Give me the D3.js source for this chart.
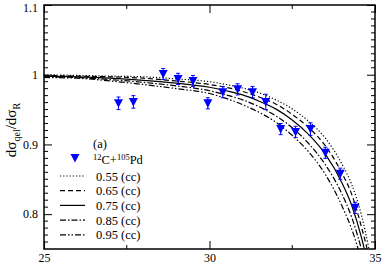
<!DOCTYPE html>
<html>
<head>
<meta charset="utf-8">
<style>
  body { margin: 0; background: #fff; }
  svg { display: block; }
  text { font-family: "Liberation Serif", "DejaVu Serif", serif; fill: #000; }
</style>
</head>
<body>
<svg></svg>
<script src="https://cdn.jsdelivr.net/npm/d3@7/dist/d3.min.js"></script>
<script>

  const width = 382,
        height = 264
  const margin = {left: 44, top: 5, right: 7, bottom: 15}
  const w = width - margin.left - margin.right,
        h = height - margin.top - margin.bottom

  // measured 12C+105Pd points
  const expAngle = [27.25, 27.7, 28.6, 29.05, 29.5, 29.95, 30.4, 30.85, 31.3, 31.7, 32.15, 32.6, 33.05, 33.5, 33.95, 34.4]
  const expRatio = [0.959, 0.961, 1.001, 0.994, 0.991, 0.959, 0.975, 0.979, 0.975, 0.961, 0.922, 0.918, 0.922, 0.888, 0.858, 0.809]
  const expErr   = [0.009, 0.009, 0.008, 0.008, 0.008, 0.008, 0.008, 0.008, 0.008, 0.011, 0.008, 0.008, 0.009, 0.008, 0.008, 0.008]

  // calculated curves, one per diffuseness
  const calcAngle = [25, 26, 27, 28, 29, 30, 30.5, 31, 31.5, 32, 32.5, 33, 33.5, 34, 34.3, 34.6, 34.8, 35]
  const curve055 = [1.000, 0.999, 0.998, 0.997, 0.994, 0.990, 0.986, 0.981, 0.974, 0.964, 0.951, 0.933, 0.909, 0.872, 0.842, 0.797, 0.754, 0.700]
  const curve065 = [0.999, 0.998, 0.997, 0.995, 0.991, 0.986, 0.982, 0.976, 0.968, 0.958, 0.943, 0.924, 0.898, 0.859, 0.828, 0.780, 0.742, 0.690]
  const curve075 = [0.998, 0.997, 0.995, 0.992, 0.988, 0.982, 0.977, 0.971, 0.962, 0.951, 0.935, 0.914, 0.886, 0.845, 0.812, 0.765, 0.725, 0.680]
  const curve085 = [0.997, 0.996, 0.993, 0.989, 0.984, 0.977, 0.971, 0.964, 0.954, 0.941, 0.924, 0.901, 0.871, 0.829, 0.795, 0.748, 0.710, 0.670]
  const curve095 = [0.996, 0.995, 0.991, 0.986, 0.980, 0.973, 0.966, 0.957, 0.946, 0.932, 0.913, 0.889, 0.857, 0.812, 0.778, 0.733, 0.700, 0.660]

  const curveLabels = ["0.55 (cc)", "0.65 (cc)", "0.75 (cc)", "0.85 (cc)", "0.95 (cc)"]
  const curveDash = ["1.2,2", "5,3", null, "6,2,1.5,2", "6,2,1.5,2,1.5,2"]
  const curves = [curve055, curve065, curve075, curve085, curve095]

  const xTicks = [25, 30, 35]
  const xMinor = [27.5, 32.5]
  const yTicks = [0.8, 0.9, 1, 1.1]
  const yMinor = d3.range(76, 110).map(d => d / 100).filter(d => Math.round(d * 100) % 10 != 0)

  const blue = "#0000ff"

  const x = d3.scaleLinear().domain([25, 35]).range([0, w])
  const y = d3.scaleLinear().domain([0.75, 1.1]).range([h, 0])

  const svg = d3.select("svg")
      .attr("width", width)
      .attr("height", height)

  svg.append("defs").append("clipPath").attr("id", "clip")
    .append("rect").attr("width", w).attr("height", h)

  const g = svg.append("g")
      .attr("transform", `translate(${margin.left}, ${margin.top})`)

  // curves
  const line = d3.line()
    .x((d, i) => x(calcAngle[i]))
    .y(d => y(d))
    .curve(d3.curveMonotoneX)

  const gCurves = g.append("g").attr("clip-path", "url(#clip)")
  curves.forEach((c, k) => {
    gCurves.append("path")
      .attr("d", line(c))
      .attr("fill", "none")
      .attr("stroke", "#000")
      .attr("stroke-width", 1.2)
      .attr("stroke-dasharray", curveDash[k])
  })

  // data points
  const tri = "M-4.5,-4L4.5,-4L0,4.5Z"
  const pts = g.selectAll(".pt")
    .data(expAngle)
    .enter()
    .append("g")
    .attr("class", "pt")
    .attr("transform", (d, i) => `translate(${x(d)}, ${y(expRatio[i])})`)
  pts.append("line")
    .attr("y1", (d, i) => y(expRatio[i] + expErr[i]) - y(expRatio[i]))
    .attr("y2", (d, i) => y(expRatio[i] - expErr[i]) - y(expRatio[i]))
    .attr("stroke", blue)
    .attr("stroke-width", 1)
  pts.append("line").attr("class", "cap")
    .attr("x1", -2).attr("x2", 2)
    .attr("y1", (d, i) => y(expRatio[i] + expErr[i]) - y(expRatio[i]))
    .attr("y2", (d, i) => y(expRatio[i] + expErr[i]) - y(expRatio[i]))
    .attr("stroke", blue)
  pts.append("line").attr("class", "cap")
    .attr("x1", -2).attr("x2", 2)
    .attr("y1", (d, i) => y(expRatio[i] - expErr[i]) - y(expRatio[i]))
    .attr("y2", (d, i) => y(expRatio[i] - expErr[i]) - y(expRatio[i]))
    .attr("stroke", blue)
  pts.append("path")
    .attr("d", tri)
    .attr("fill", blue)

  // axes, ticks inward on all four sides
  const axB = d3.axisBottom(x).tickValues(xTicks).tickSize(-8).tickPadding(4).tickFormat(d3.format("d"))
  const axT = d3.axisTop(x).tickValues(xTicks).tickSize(-8).tickFormat("")
  const axL = d3.axisLeft(y).tickValues(yTicks).tickSize(-8).tickPadding(6).tickFormat(d => d == 1 ? "1" : d3.format(".1f")(d))
  const axR = d3.axisRight(y).tickValues(yTicks).tickSize(-8).tickFormat("")

  g.append("g").attr("transform", `translate(0, ${h})`).call(axB)
  g.append("g").call(axT)
  const gyL = g.append("g").call(axL)
  g.append("g").attr("transform", `translate(${w}, 0)`).call(axR)

  // top label sits a touch lower so it stays inside the page
  gyL.selectAll(".tick text").filter(d => d == 1.1).attr("dy", "0.5em")

  // minor ticks
  xMinor.forEach(v => {
    g.append("line").attr("x1", x(v)).attr("x2", x(v)).attr("y1", h).attr("y2", h - 4).attr("stroke", "#000")
    g.append("line").attr("x1", x(v)).attr("x2", x(v)).attr("y1", 0).attr("y2", 4).attr("stroke", "#000")
  })
  yMinor.forEach(v => {
    g.append("line").attr("x1", 0).attr("x2", 4).attr("y1", y(v)).attr("y2", y(v)).attr("stroke", "#000")
    g.append("line").attr("x1", w).attr("x2", w - 4).attr("y1", y(v)).attr("y2", y(v)).attr("stroke", "#000")
  })

  g.selectAll(".domain").remove()
  g.selectAll(".tick line").attr("stroke", "#000")
  g.selectAll(".tick text")
    .style("font-family", "Liberation Serif")
    .style("font-size", "12px")
    .attr("fill", "#000")

  g.append("rect")
    .attr("width", w)
    .attr("height", h)
    .attr("fill", "none")
    .attr("stroke", "#000")
    .attr("stroke-width", 1.5)

  // y axis title
  const yt = svg.append("text")
    .attr("transform", `translate(16, 130) rotate(-90)`)
    .style("text-anchor", "middle")
    .style("font-size", "15px")
  yt.append("tspan").text("dσ")
  yt.append("tspan").text("qel").attr("dy", 4).style("font-size", "10px")
  yt.append("tspan").text("/dσ").attr("dy", -4)
  yt.append("tspan").text("R").attr("dy", 4).style("font-size", "10px")

  // legend
  const leg = svg.append("g")
  leg.append("text").attr("x", 93).attr("y", 148).style("font-size", "12.5px").text("(a)")
  leg.append("path").attr("d", tri).attr("fill", blue).attr("transform", "translate(75, 158)")
  const lt = leg.append("text").attr("x", 93).attr("y", 164).style("font-size", "12.5px")
  lt.append("tspan").text("12").attr("dy", -4.5).style("font-size", "8.5px")
  lt.append("tspan").text("C+").attr("dy", 4.5)
  lt.append("tspan").text("105").attr("dy", -4.5).style("font-size", "8.5px")
  lt.append("tspan").text("Pd").attr("dy", 4.5)

  curveLabels.forEach((lab, k) => {
    const yy = 176 + k * 14.7
    leg.append("line")
      .attr("x1", 60).attr("x2", 85)
      .attr("y1", yy).attr("y2", yy)
      .attr("stroke", "#000")
      .attr("stroke-width", 1.2)
      .attr("stroke-dasharray", curveDash[k])
    leg.append("text")
      .attr("x", 96).attr("y", yy + 4.5)
      .style("font-size", "12.5px")
      .text(lab)
  })

</script>
</body>
</html>
